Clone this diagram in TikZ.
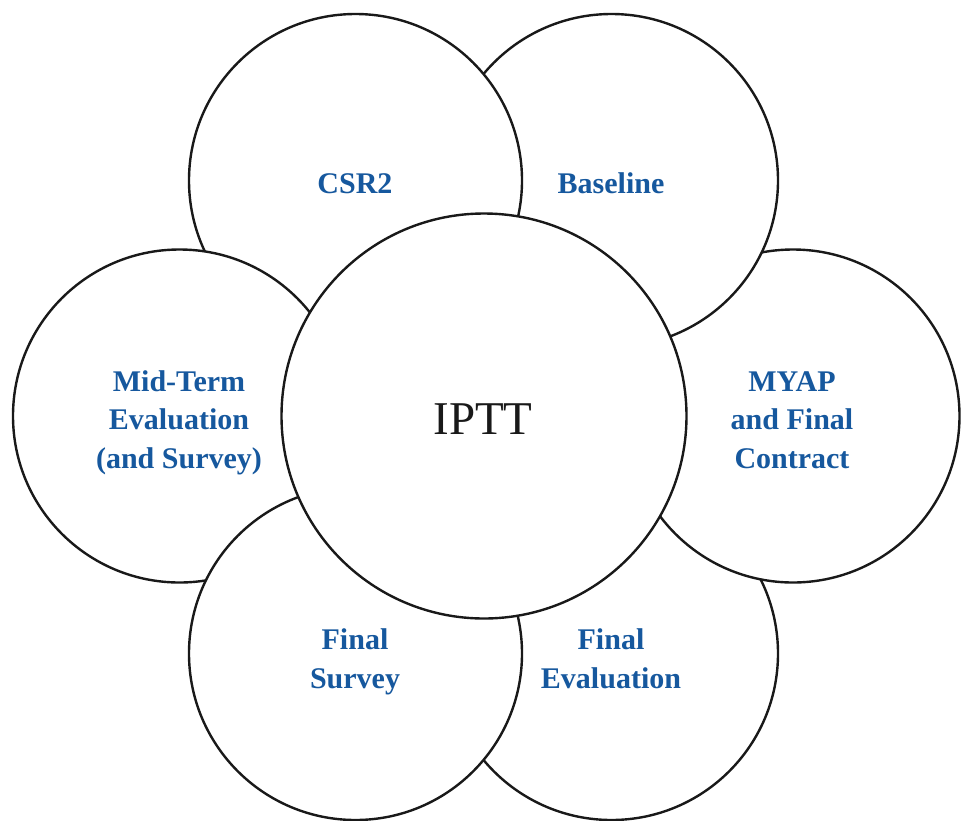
\documentclass[tikz,border=0pt]{standalone}
\usepackage{fontspec}
\setmainfont{Liberation Serif}
\definecolor{lblblue}{RGB}{22,88,158}
\tikzset{
  ring/.style={circle, draw=black!90, line width=2.4pt, fill=white, inner sep=0pt, minimum size=333pt},
  hub/.style={circle, draw=black!90, line width=2.4pt, fill=white, inner sep=0pt, minimum size=405pt},
  lbl/.style={text=lblblue, font=\fontsize{30}{38.5}\selectfont\bfseries, align=center, anchor=base, inner sep=0pt},
  hublbl/.style={text=black!90, font=\fontsize{47}{50}\selectfont, anchor=base, inner sep=0pt}
}
\begin{document}
\begin{tikzpicture}[x=1pt,y=-1pt]
\useasboundingbox (0,0) rectangle (962,820);
% circles, back to front
\node[ring] (feval) at (611.5,653.5) {};
\node[ring] (myap) at (793,416) {};
\node[ring] (base) at (611.5,180.5) {};
\node[ring] (csr) at (355.5,180.5) {};
\node[ring] (mid) at (179.5,416) {};
\node[ring] (fsurv) at (355.5,653.5) {};
\node[hub] (iptt) at (484,416) {};
% labels (anchor = baseline of last line)
\node[lbl] (tcsr) at (355,193) {CSR2};
\node[lbl] (tbase) at (611,193) {Baseline};
\node[lbl] (tmid) at (179,468) {Mid-Term\\Evaluation\\(and Survey)};
\node[lbl] (tmyap) at (792,468) {MYAP\\and Final\\Contract};
\node[lbl] (tfsurv) at (355,688) {Final\\Survey};
\node[lbl] (tfeval) at (611,688) {Final\\Evaluation};
\node[hublbl] (tiptt) at (483,434) {IPTT};
\end{tikzpicture}
\end{document}
